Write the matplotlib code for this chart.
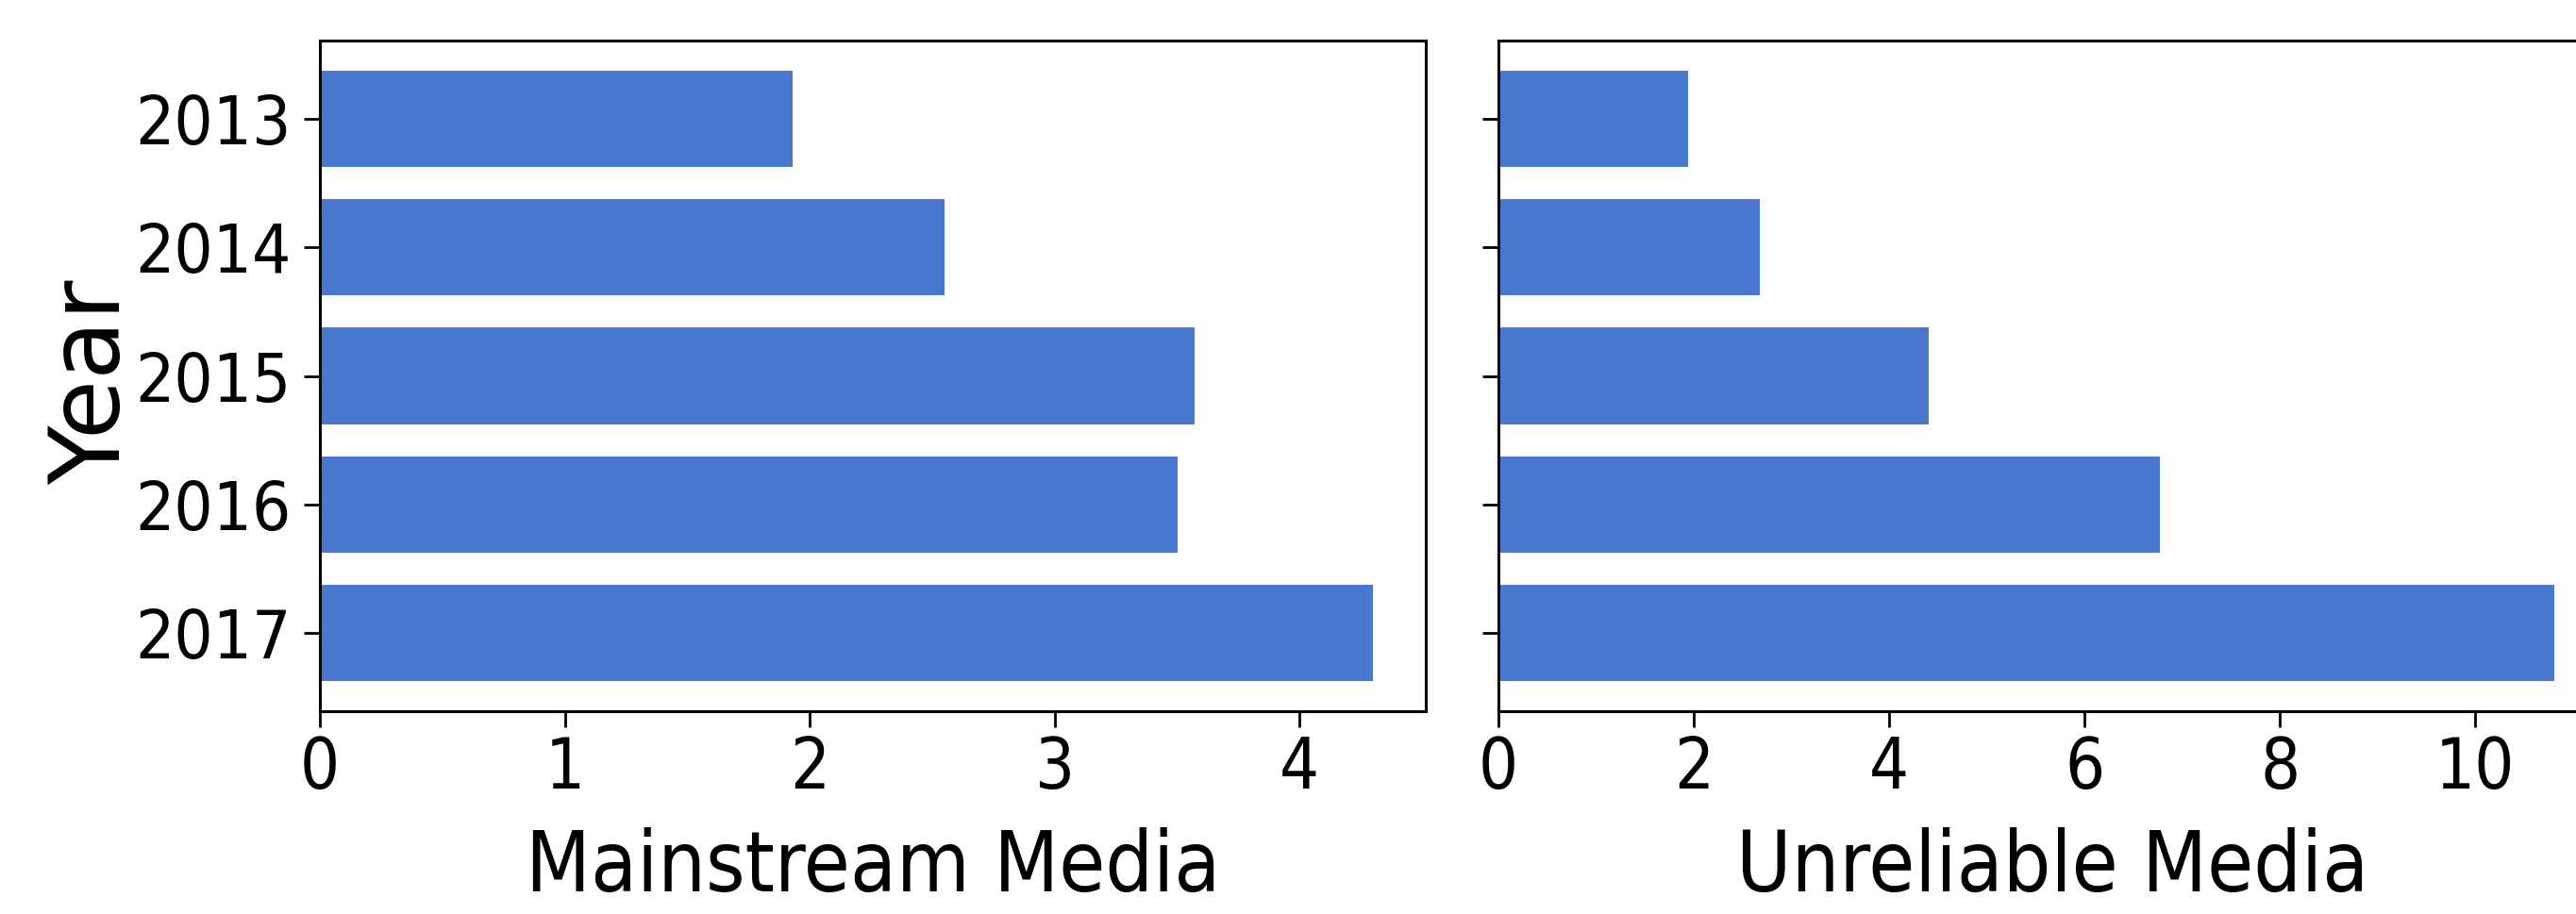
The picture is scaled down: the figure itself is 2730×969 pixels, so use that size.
import matplotlib
matplotlib.use("Agg")
import matplotlib.pyplot as plt
from matplotlib import font_manager

years = ["2013", "2014", "2015", "2016", "2017"]
mainstream = [1.93, 2.55, 3.57, 3.50, 4.30]
unreliable = [1.94, 2.68, 4.40, 6.77, 10.81]

bar_color = "#4878d0"

# use the condensed DejaVu cut if it is installed, the reference text is narrow
fp = font_manager.FontProperties(family="DejaVu Sans", stretch="condensed")
font_file = font_manager.findfont(fp)
stretch = "condensed" if "Condensed" in font_file else "normal"
plt.rcParams["font.family"] = "DejaVu Sans"
plt.rcParams["font.stretch"] = stretch

fig = plt.figure(figsize=(27.3, 9.69), dpi=100)
ax1 = fig.add_axes([0.1242, 0.2219, 0.4293, 0.7337])
ax2 = fig.add_axes([0.5817, 0.2219, 0.4304, 0.7337])

for ax, vals, label in [(ax1, mainstream, "Mainstream Media"),
                        (ax2, unreliable, "Unreliable Media")]:
    ax.barh(years, vals, height=0.75, color=bar_color)
    ax.invert_yaxis()
    ax.set_xlabel(label, fontsize=64, labelpad=18)
    for sp in ax.spines.values():
        sp.set_linewidth(2.2)
    ax.tick_params(axis="x", labelsize=53, length=12, width=2, pad=6)
    ax.tick_params(axis="y", labelsize=52, length=12, width=2, pad=10)

ax1.set_xticks([0, 1, 2, 3, 4])
ax2.set_xticks([0, 2, 4, 6, 8, 10])
ax2.tick_params(axis="y", labelleft=False)
# rotated label keeps normal width
ax1.set_ylabel("Year", fontsize=74, fontstretch="normal")
ax1.yaxis.set_label_coords(-0.162, 0.49)

fig.savefig("out.png", dpi=100)
